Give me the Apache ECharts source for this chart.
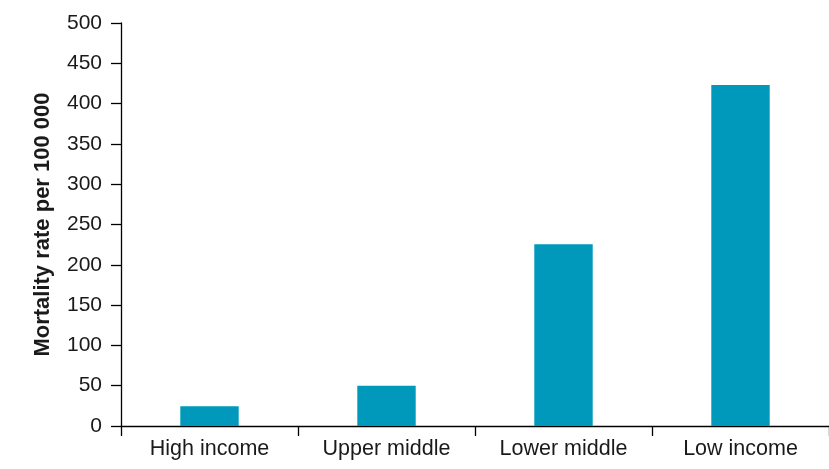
<!DOCTYPE html>
<html>
<head>
<meta charset="utf-8">
<script src="https://cdn.jsdelivr.net/npm/echarts@6/dist/echarts.min.js"></script>
<style>
  html, body { margin: 0; padding: 0; background: #fff; }
  #chart { width: 829px; height: 469px; }
</style>
</head>
<body>
<div id="chart"></div>
<script>
const categories = ['High income', 'Upper middle', 'Lower middle', 'Low income'];
const mortality = [24.5, 50, 225.5, 423];
const yTicks = { min: 0, max: 500, interval: 50 };

const chart = echarts.init(document.getElementById('chart'));
const font = '"Liberation Sans", Arial, Helvetica, sans-serif';

chart.setOption({
    animation: false,
    grid: { left: 121, width: 712, top: 23, bottom: 43 },
    xAxis: {
        type: 'category',
        data: categories,
        axisLine: { lineStyle: { color: '#000', width: 1.3 } },
        axisTick: { show: true, length: 10, lineStyle: { color: '#000', width: 1.3 } },
        axisLabel: { color: '#1a1a1a', fontSize: 21.5, fontFamily: font, margin: 12 }
    },
    yAxis: {
        type: 'value',
        min: yTicks.min,
        max: yTicks.max,
        interval: yTicks.interval,
        name: 'Mortality rate per 100 000',
        nameLocation: 'middle',
        nameGap: 67,
        nameTextStyle: { color: '#1a1a1a', fontSize: 22, fontWeight: 'bold', fontFamily: font },
        axisLine: { show: true, lineStyle: { color: '#000', width: 1.3 } },
        axisTick: { show: true, length: 10, lineStyle: { color: '#000', width: 1.3 } },
        axisLabel: { color: '#1a1a1a', fontSize: 21, fontFamily: font, margin: 19 },
        splitLine: { show: false }
    },
    series: [{
        type: 'bar',
        data: mortality,
        barWidth: '33%',
        itemStyle: { color: '#0099bc' }
    }]
});
</script>
</body>
</html>
